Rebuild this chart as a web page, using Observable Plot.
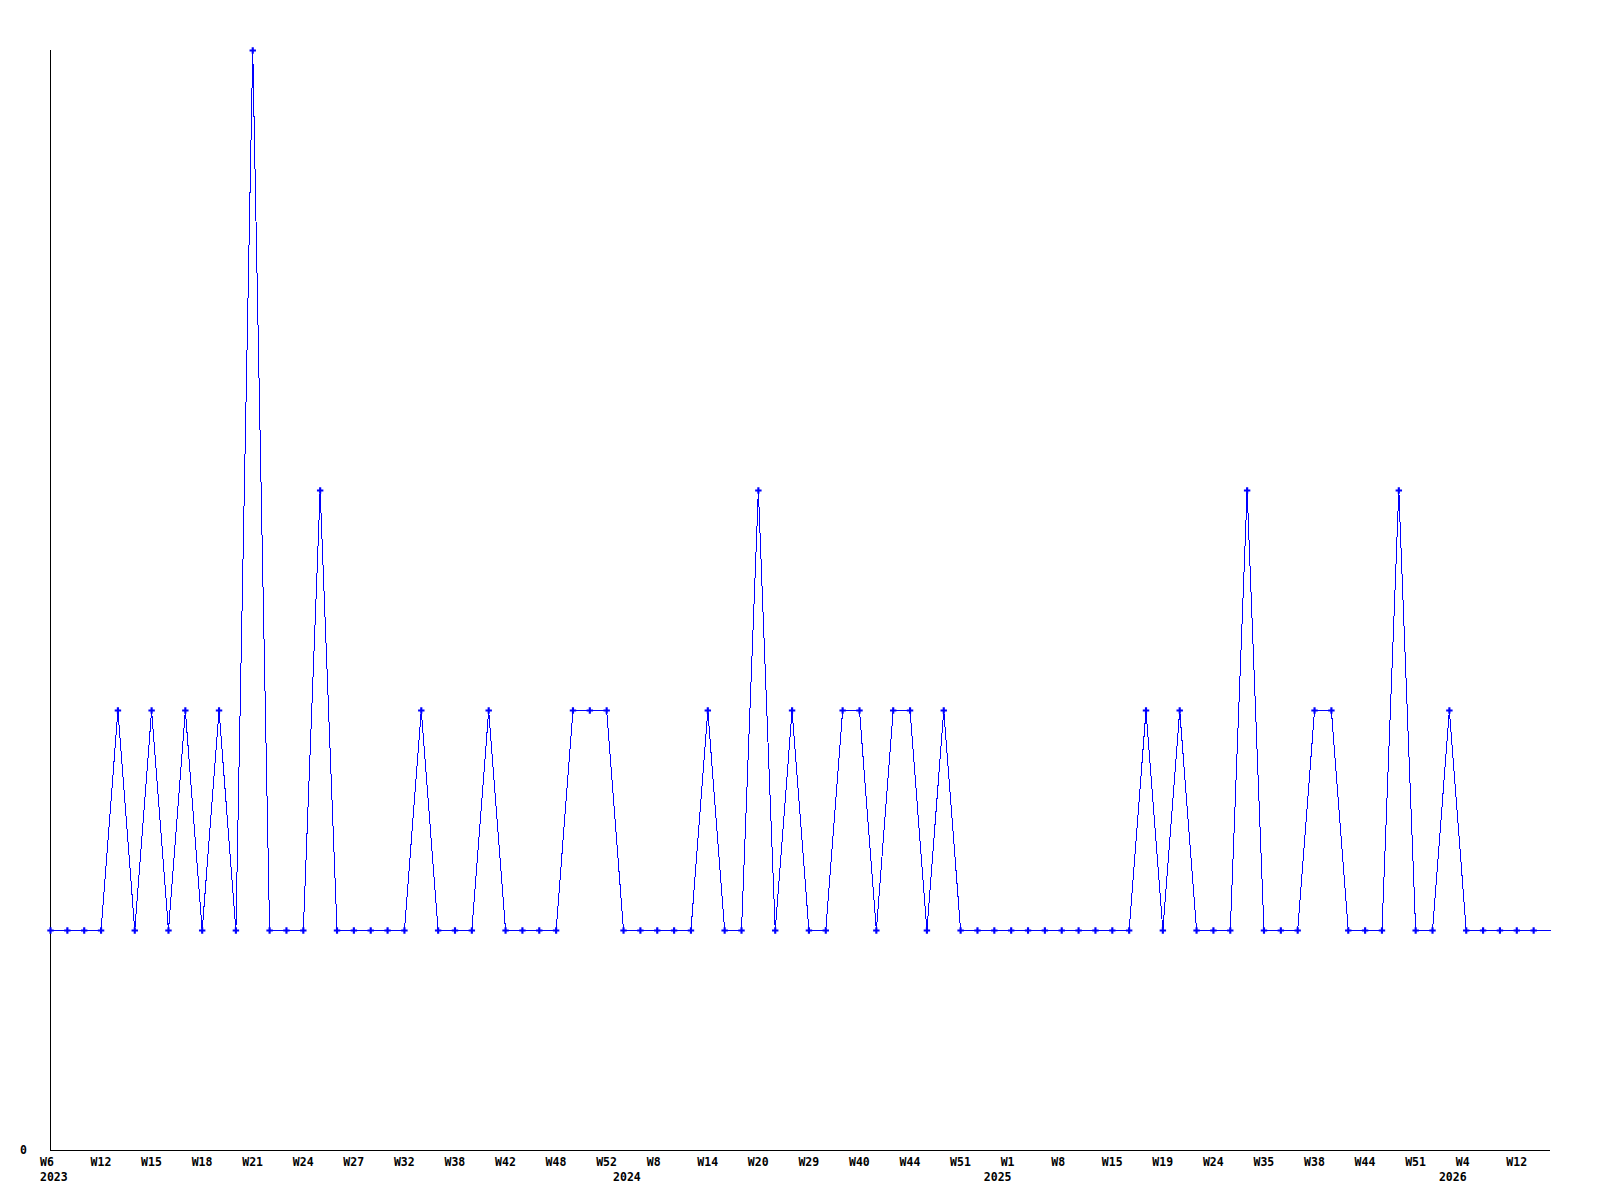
<!DOCTYPE html>
<html>
<head>
<meta charset="utf-8">
<script src="https://cdn.jsdelivr.net/npm/d3@7"></script>
<script src="https://cdn.jsdelivr.net/npm/@observablehq/plot@0.6"></script>
<style>
  html, body { margin: 0; padding: 0; background: #fff; }
  #chart svg { display: block; }
</style>
</head>
<body>
<div id="chart"></div>
<script>
// Weekly counts (one point per week that has an entry)
const values = [
  1,1,1,1,2,1,2,1,2,1,
  2,1,5,1,1,1,3,1,1,1,
  1,1,2,1,1,1,2,1,1,1,
  1,2,2,2,1,1,1,1,1,2,
  1,1,3,1,2,1,1,2,2,1,
  2,2,1,2,1,1,1,1,1,1,
  1,1,1,1,1,2,1,2,1,1,
  1,3,1,1,1,2,2,1,1,1,
  3,1,1,2,1,1,1,1,1
];

// Week tick labels shown every third point
const weekLabels = [
  "W6","W12","W15","W18","W21","W24","W27","W32","W38","W42","W48","W52",
  "W8","W14","W20","W29","W40","W44","W51",
  "W1","W8","W15","W19","W24","W35","W38","W44","W51",
  "W4","W12"
];
const weekStep = 3;

// Year labels and the point index where each year starts
const yearLabels = ["2023","2024","2025","2026"];
const yearIndex = [0, 34, 56, 83];

const points = values.map((v, i) => ({i, v}));
// the line continues to the right edge of the plot at the last value
const linePts = [...points, {i: values.length, v: values[values.length - 1]}];
const tickIdx = weekLabels.map((_, k) => k * weekStep);
const years = yearLabels.map((t, k) => ({t, i: yearIndex[k]}));
const blue = "#0000ff";

const chart = Plot.plot({
  width: 1600,
  height: 1200,
  marginLeft: 50,
  marginRight: 50,
  marginTop: 50,
  marginBottom: 50,
  style: {fontFamily: "'DejaVu Sans Mono', monospace", fontWeight: "bold", fontSize: "11.5px", background: "#fff", color: "#000"},
  x: {type: "linear", domain: [0, values.length]},
  y: {domain: [0, d3.max(values)]},
  marks: [
    Plot.ruleX([0], {stroke: "#000", strokeWidth: 1, shapeRendering: "crispEdges"}),
    Plot.ruleY([0], {stroke: "#000", strokeWidth: 1, shapeRendering: "crispEdges"}),
    Plot.axisY({ticks: [0], tickSize: 0, tickPadding: 23.5, tickFormat: d => String(d), label: null}),
    Plot.axisX({ticks: tickIdx, tickSize: 0, tickPadding: 7, tickFormat: d => weekLabels[d / weekStep], textAnchor: "start", dx: -10.5, label: null}),
    Plot.text(years, {x: "i", y: () => 0, text: "t", textAnchor: "start", dx: -10.5, dy: 26.5, lineAnchor: "middle", fill: "#000"}),
    Plot.line(linePts, {x: "i", y: "v", stroke: blue, strokeWidth: 1, shapeRendering: "crispEdges"}),
    Plot.dot(points, {x: "i", y: "v", symbol: "cross", r: 2.7, fill: blue})
  ]
});
document.getElementById("chart").appendChild(chart);
</script>
</body>
</html>
